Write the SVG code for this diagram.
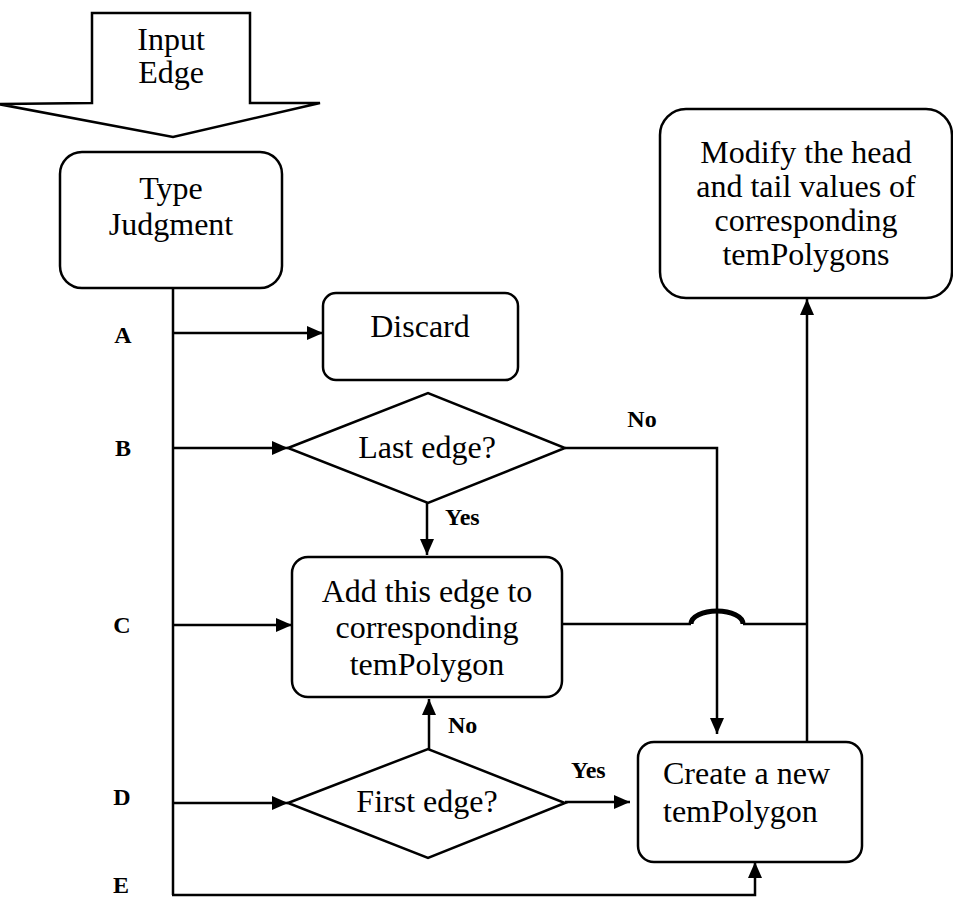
<svg xmlns="http://www.w3.org/2000/svg" width="953" height="899" viewBox="0 0 953 899">
  <style>
    .box { fill: #ffffff; stroke: #000000; stroke-width: 2.5; }
    .line { fill: none; stroke: #000000; stroke-width: 2.5; }
    .node { font-family: "Liberation Serif", "Times New Roman", serif; font-size: 32px; fill: #000000; text-anchor: middle; }
    .node.left { text-anchor: start; }
    .lbl { font-family: "Liberation Serif", "Times New Roman", serif; font-size: 24px; font-weight: bold; fill: #000000; }
    .lbl.mid { text-anchor: middle; }
  </style>
  <defs>
    <marker id="arrow" markerUnits="userSpaceOnUse" markerWidth="18" markerHeight="14" refX="16" refY="7" orient="auto">
      <path d="M0,0 L16,7 L0,14 Z" fill="#000000"/>
    </marker>
  </defs>
  <rect width="953" height="899" fill="#ffffff"/>

  <!-- entry arrow -->
  <g id="input-edge">
    <path class="box" d="M92,13 L250,13 L250,103 L320,103 L173,137 L-2,104 L92,103 Z"/>
    <text class="node" x="171" y="50">Input</text>
    <text class="node" x="171" y="83">Edge</text>
  </g>

  <g id="type-judgment">
    <rect class="box" x="60" y="152" width="222" height="136" rx="22"/>
    <text class="node" x="171" y="199">Type</text>
    <text class="node" x="171" y="235">Judgment</text>
  </g>

  <g id="discard">
    <rect class="box" x="323" y="293" width="195" height="87" rx="13"/>
    <text class="node" x="420" y="337">Discard</text>
  </g>

  <g id="last-edge">
    <polygon class="box" points="288,448 428,393 565,448 428,503"/>
    <text class="node" x="427" y="458">Last edge?</text>
  </g>

  <g id="add-edge">
    <rect class="box" x="292" y="557" width="270" height="140" rx="16"/>
    <text class="node" x="427" y="602">Add this edge to</text>
    <text class="node" x="427" y="638">corresponding</text>
    <text class="node" x="427" y="675">temPolygon</text>
  </g>

  <g id="first-edge">
    <polygon class="box" points="288,803 428,749 565,803 428,858"/>
    <text class="node" x="427" y="812">First edge?</text>
  </g>

  <g id="create-polygon">
    <rect class="box" x="638" y="742" width="224" height="120" rx="16"/>
    <text class="node left" x="663" y="784">Create a new</text>
    <text class="node left" x="663" y="822">temPolygon</text>
  </g>

  <g id="modify-values">
    <rect class="box" x="660" y="109" width="292" height="189" rx="26"/>
    <text class="node" x="806" y="163">Modify the head</text>
    <text class="node" x="806" y="197">and tail values of</text>
    <text class="node" x="806" y="231">corresponding</text>
    <text class="node" x="806" y="265">temPolygons</text>
  </g>

  <!-- type labels on the trunk -->
  <g id="type-labels">
    <text class="lbl mid" x="123" y="343">A</text>
    <text class="lbl mid" x="123" y="456">B</text>
    <text class="lbl mid" x="122" y="633">C</text>
    <text class="lbl mid" x="122" y="805">D</text>
    <text class="lbl mid" x="121" y="893">E</text>
  </g>

  <g id="connectors">
    <!-- trunk -->
    <path class="line" d="M173,288 L173,895"/>
    <!-- A..D branches -->
    <path class="line" d="M173,333 L323,333" marker-end="url(#arrow)"/>
    <path class="line" d="M173,448 L288,448" marker-end="url(#arrow)"/>
    <path class="line" d="M173,625 L292,625" marker-end="url(#arrow)"/>
    <path class="line" d="M173,803 L288,803" marker-end="url(#arrow)"/>
    <!-- E branch -->
    <path class="line" d="M172,895 L755,895 L755,862" marker-end="url(#arrow)"/>
    <!-- last edge: yes / no -->
    <path class="line" d="M427,503 L427,555" marker-end="url(#arrow)"/>
    <path class="line" d="M565,448 L717,448 L717,734" marker-end="url(#arrow)"/>
    <!-- first edge: no / yes -->
    <path class="line" d="M429,749 L429,699" marker-end="url(#arrow)"/>
    <path class="line" d="M565,802 L630,802" marker-end="url(#arrow)"/>
    <!-- add -> modify, hopping over the vertical line -->
    <path class="line" d="M562,624 L691,624"/>
    <path d="M691,624 A26 13 0 0 1 743,624" fill="none" stroke="#000000" stroke-width="5"/>
    <path class="line" d="M743,624 L807,624"/>
    <!-- create -> modify -->
    <path class="line" d="M807,742 L807,299" marker-end="url(#arrow)"/>
    <text class="lbl mid" x="642" y="427">No</text>
    <text class="lbl" x="445" y="525">Yes</text>
    <text class="lbl" x="448" y="733">No</text>
    <text class="lbl" x="571" y="778">Yes</text>
  </g>
</svg>
